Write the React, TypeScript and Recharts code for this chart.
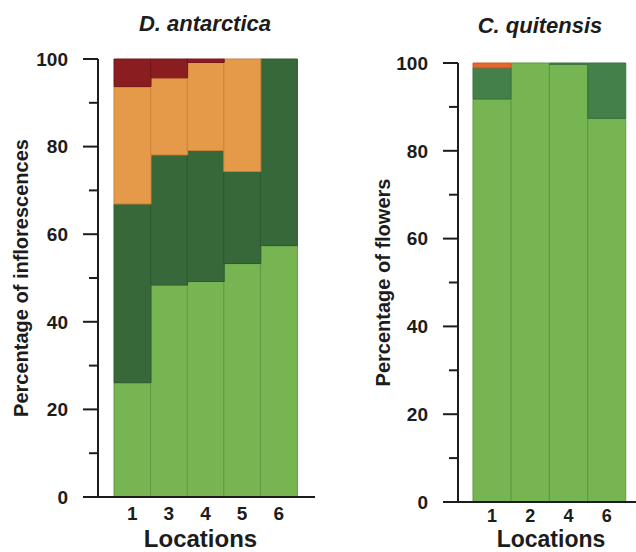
import { Bar, BarChart, XAxis, YAxis } from "recharts"

const leftLocations = ["1", "3", "4", "5", "6"]
const leftUnopened = [26.1, 48.4, 49.2, 53.3, 57.4]
const leftOpen = [40.8, 29.7, 29.9, 21.0, 42.6]
const leftSeed = [26.8, 17.6, 20.1, 25.7, 0]
const leftLost = [6.3, 4.3, 0.8, 0, 0]

const rightLocations = ["1", "2", "4", "6"]
const rightUnopened = [91.8, 100, 99.7, 87.4]
const rightOpen = [7.1, 0, 0.3, 12.6]
const rightSeed = [1.1, 0, 0, 0]

const yTicks = [0, 10, 20, 30, 40, 50, 60, 70, 80, 90, 100]

const leftData = leftLocations.map((loc, i) => ({
  loc,
  a: leftUnopened[i],
  b: leftOpen[i],
  c: leftSeed[i],
  d: leftLost[i],
}))

const rightData = rightLocations.map((loc, i) => ({
  loc,
  a: rightUnopened[i],
  b: rightOpen[i],
  c: rightSeed[i],
}))

const font = '"Liberation Sans", Arial, sans-serif'
const ink = "#1c1c1c"

function YTick({ x, y, payload }: any) {
  const major = payload.value % 20 === 0
  return (
    <g>
      <line x1={x - (major ? 15 : 9)} x2={x} y1={y} y2={y} stroke={ink} strokeWidth={2} />
      {major && (
        <text x={x - 30} y={y} dy="0.36em" textAnchor="end" fontSize={19} fontWeight={700} fill={ink}>
          {payload.value}
        </text>
      )}
    </g>
  )
}

const titleStyle = {
  position: "absolute" as const,
  width: 220,
  lineHeight: "22px",
  textAlign: "center" as const,
  fontSize: 22,
  fontWeight: 700,
  fontStyle: "italic",
  color: ink,
}

export default function App() {
  return (
    <div
      style={{
        position: "absolute",
        top: 0,
        left: 0,
        width: 636,
        height: 552,
        background: "#fff",
        fontFamily: font,
      }}
    >
      <div style={{ ...titleStyle, left: 95, top: 13 }}>D. antarctica</div>
      <div style={{ ...titleStyle, left: 430, top: 15 }}>C. quitensis</div>

      <div style={{ position: "absolute", left: 0, top: 0 }}>
        <BarChart
          width={320}
          height={552}
          data={leftData}
          margin={{ top: 59, right: 5, bottom: 0, left: 0 }}
          barCategoryGap={0}
          barGap={0}
        >
          <XAxis
            dataKey="loc"
            height={55}
            padding={{ left: 16, right: 18 }}
            axisLine={{ stroke: ink, strokeWidth: 2 }}
            tickLine={false}
            tickSize={0}
            tickMargin={10}
            tick={{ fontSize: 19, fontWeight: 700, fill: ink }}
            label={{ value: "Locations", position: "insideBottom", offset: 5, dx: -6, fontSize: 24, fontWeight: 700, fill: ink }}
          />
          <YAxis
            width={98}
            domain={[0, 100]}
            ticks={yTicks}
            interval={0}
            axisLine={{ stroke: ink, strokeWidth: 2 }}
            tickLine={false}
            tickSize={0}
            tickMargin={0}
            tick={<YTick />}
            label={{
              value: "Percentage of inflorescences",
              angle: -90,
              position: "insideLeft",
              offset: 21,
              fontSize: 20,
              fontWeight: 700,
              fill: ink,
              style: { textAnchor: "middle" },
            }}
          />
          <Bar dataKey="a" stackId="s" fill="#77b452" stroke="#5f9a42" strokeWidth={1} isAnimationActive={false} />
          <Bar dataKey="b" stackId="s" fill="#36683a" stroke="#2c5a30" strokeWidth={1} isAnimationActive={false} />
          <Bar dataKey="c" stackId="s" fill="#e49a48" stroke="#c9823a" strokeWidth={1} isAnimationActive={false} />
          <Bar dataKey="d" stackId="s" fill="#8a1d20" stroke="#761519" strokeWidth={1} isAnimationActive={false} />
        </BarChart>
      </div>

      <div style={{ position: "absolute", left: 320, top: 0 }}>
        <BarChart
          width={316}
          height={552}
          data={rightData}
          margin={{ top: 63, right: 0, bottom: 0, left: 0 }}
          barCategoryGap={0}
          barGap={0}
        >
          <XAxis
            dataKey="loc"
            height={50}
            padding={{ left: 15, right: 10 }}
            axisLine={{ stroke: ink, strokeWidth: 2 }}
            tickLine={false}
            tickSize={0}
            tickMargin={7}
            tick={{ fontSize: 18, fontWeight: 700, fill: ink }}
            label={{ value: "Locations", position: "insideBottom", offset: 5, dx: 4, fontSize: 23, fontWeight: 700, fill: ink }}
          />
          <YAxis
            width={138}
            domain={[0, 100]}
            ticks={yTicks}
            interval={0}
            axisLine={{ stroke: ink, strokeWidth: 2 }}
            tickLine={false}
            tickSize={0}
            tickMargin={0}
            tick={<YTick />}
            label={{
              value: "Percentage of flowers",
              angle: -90,
              position: "insideLeft",
              offset: 63,
              fontSize: 20,
              fontWeight: 700,
              fill: ink,
              style: { textAnchor: "middle" },
            }}
          />
          <Bar dataKey="a" stackId="s" fill="#77b452" stroke="#5f9a42" strokeWidth={1} isAnimationActive={false} />
          <Bar dataKey="b" stackId="s" fill="#44814a" stroke="#38703d" strokeWidth={1} isAnimationActive={false} />
          <Bar dataKey="c" stackId="s" fill="#e4682e" stroke="#cc5a26" strokeWidth={1} isAnimationActive={false} />
        </BarChart>
      </div>
    </div>
  )
}
